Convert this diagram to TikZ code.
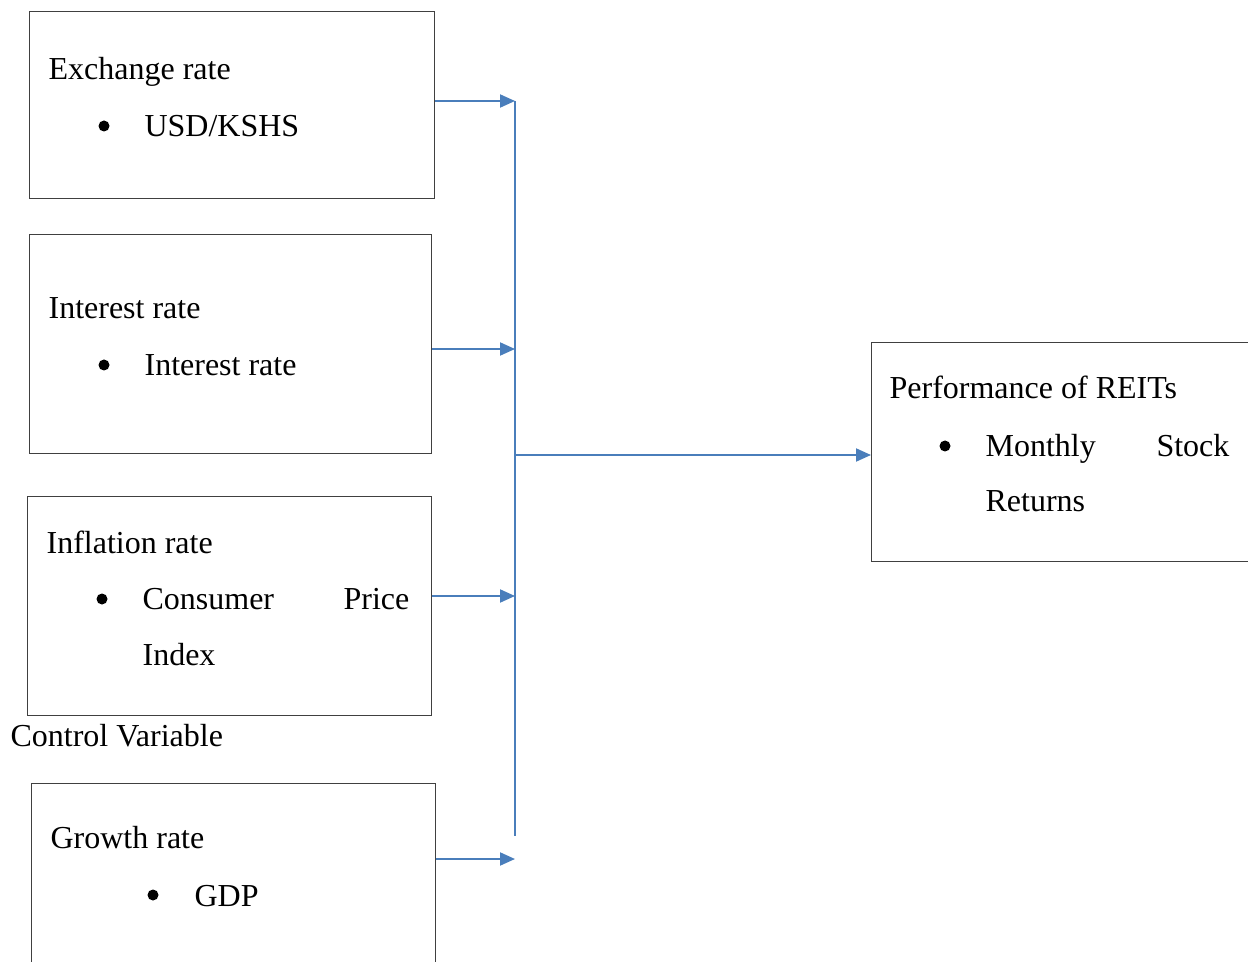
\documentclass[tikz,border=0pt]{standalone}
\usepackage{fontspec}
\setmainfont{Liberation Serif}
\usetikzlibrary{arrows.meta}
\definecolor{flowblue}{RGB}{74,126,187}
\begin{document}
\begin{tikzpicture}[x=0.5pt,y=-0.5pt,line width=0.6pt,
  every node/.style={font=\fontsize{16}{19}\selectfont,inner sep=0pt},
  box/.style={draw=black!75,anchor=north west,minimum width=202pt,minimum height=109.5pt},
  dot/.style={circle,fill=black,minimum size=5.5pt},
  flow/.style={draw=flowblue,line width=1pt,-{Triangle[length=7.5pt,width=6.5pt]}},
  bus/.style={draw=flowblue,line width=1pt}]
\useasboundingbox (0,0) rectangle (1248,962);
\clip (0,0) rectangle (1248,962);
% boxes
\node[box,minimum width=202.5pt,minimum height=93.5pt] (exch) at (29,11) {};
\node[box,minimum width=201pt] (intr) at (29,234) {};
\node[box] (infl) at (27,496) {};
\node[box,minimum height=108.5pt] (grow) at (31,783) {};
\node[box,minimum width=214.5pt] (perf) at (871,342) {};
% texts
\node[anchor=base west] (t1) at (48,80) {Exchange rate};
\node[dot] (d1) at (104,126) {};
\node[anchor=base west] (u1) at (144,137) {USD/KSHS};
\node[anchor=base west] (t2) at (48,319) {Interest rate};
\node[dot] (d2) at (104,365) {};
\node[anchor=base west] (u2) at (144,376) {Interest rate};
\node[anchor=base west] (t3) at (46,553) {Inflation rate};
\node[dot] (d3) at (102,599) {};
\node[anchor=base west] (u3) at (142,610) {Consumer};
\node[anchor=base east] (v3) at (410,610) {Price};
\node[anchor=base west] (w3) at (142,665) {Index};
\node[anchor=base west] (ctrl) at (10,746) {Control Variable};
\node[anchor=base west] (t4) at (50,848) {Growth rate};
\node[dot] (d4) at (153,895) {};
\node[anchor=base west] (u4) at (194,906) {GDP};
\node[anchor=base west] (t5) at (889,399) {Performance of REITs};
\node[dot] (d5) at (945,446) {};
\node[anchor=base west] (u5) at (985,457) {Monthly};
\node[anchor=base east] (v5) at (1230,457) {Stock};
\node[anchor=base west] (w5) at (985,512) {Returns};
% connectors
\coordinate (b1) at (515,101);
\coordinate (b2) at (515,349);
\coordinate (b3) at (515,596);
\coordinate (b4) at (515,859);
\coordinate (hub) at (515,455);
\coordinate (bend) at (515,836);
\draw[bus] (b1) -- (bend);
\draw[flow] (exch.east |- b1) -- (b1);
\draw[flow] (intr.east |- b2) -- (b2);
\draw[flow] (infl.east |- b3) -- (b3);
\draw[flow] (grow.east |- b4) -- (b4);
\draw[flow] (hub) -- (perf.west |- hub);
\end{tikzpicture}
\end{document}
